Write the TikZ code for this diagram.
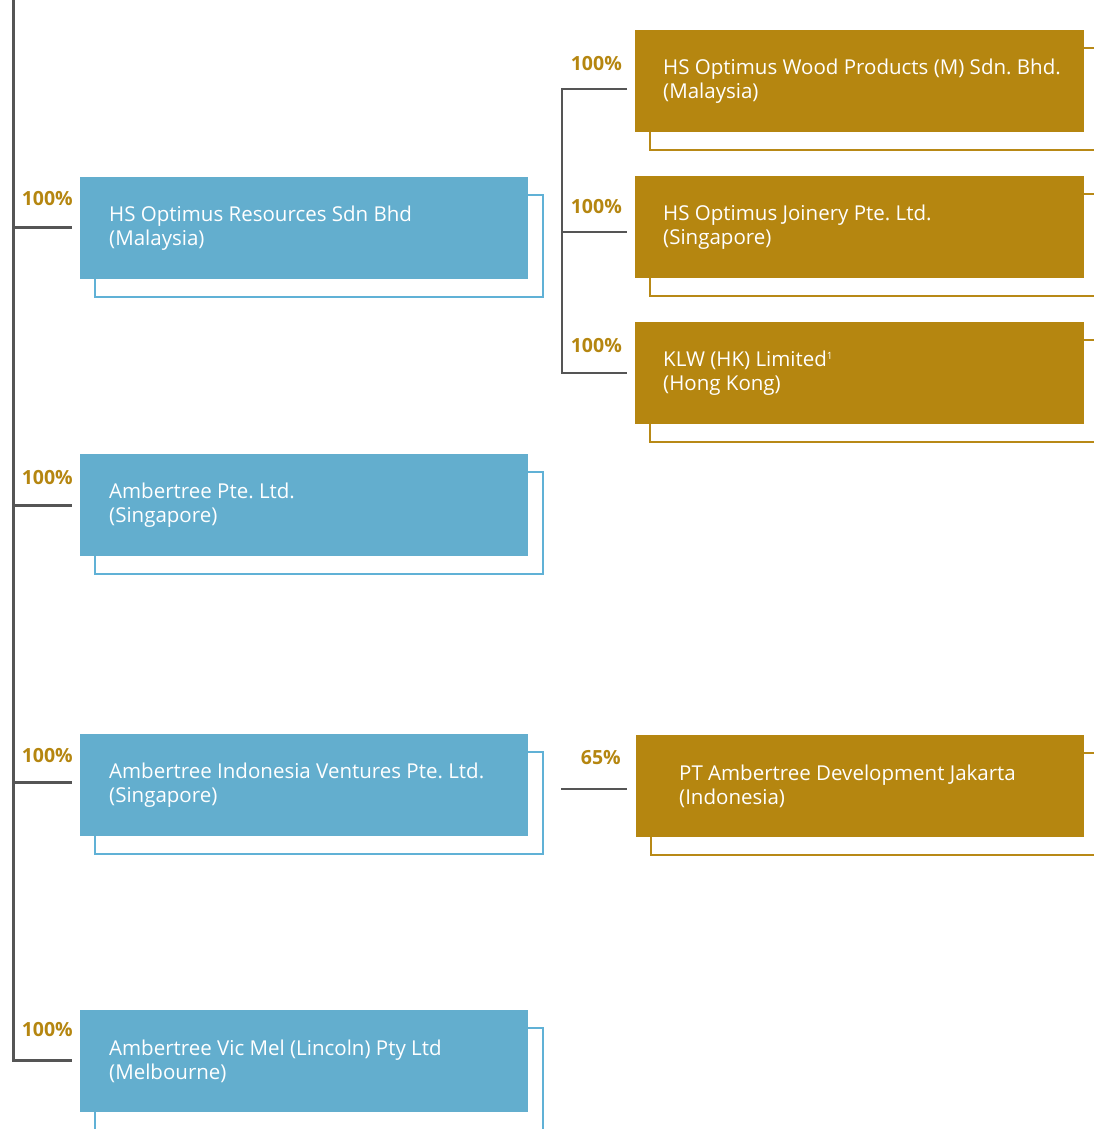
\documentclass[tikz,border=0pt]{standalone}
\usepackage{fontspec}
\setmainfont{Open Sans}
\frenchspacing
\usetikzlibrary{positioning, backgrounds}
\definecolor{linegray}{RGB}{85,85,85}
\definecolor{boxblue}{RGB}{99,174,206}
\definecolor{frameblue}{RGB}{96,177,214}
\definecolor{boxgold}{RGB}{181,134,16}
\definecolor{framegold}{RGB}{184,137,22}

\begin{document}
\begin{tikzpicture}[x=1pt, y=-1pt]
    % Define box styles
    \tikzstyle{bluebox}=[rectangle, fill=boxblue, anchor=north west, minimum width=448pt, minimum height=102pt, inner sep=0pt]
    \tikzstyle{goldbox}=[bluebox, fill=boxgold, minimum width=449pt]
    \tikzstyle{boxtext}=[anchor=west, inner sep=0pt, align=left, text=white, font=\fontsize{20.5}{24}\selectfont]
    \tikzstyle{pct}=[anchor=base east, inner sep=0pt, text=boxgold, font=\fontsize{19.5}{24}\selectfont\bfseries]
    \tikzstyle{trunk}=[draw=linegray, line width=3pt]
    \tikzstyle{thinlink}=[draw=linegray, line width=2pt]

    \useasboundingbox (0,0) rectangle (1094,1129);
    \clip (0,0) rectangle (1094,1129);

    % Left column
    \node[bluebox] (hsr) at (80,177) {};
    \node[boxtext, right=29pt of hsr.west] (hsrtext) {HS Optimus Resources Sdn Bhd\\(Malaysia)};
    \node[bluebox] (amb) at (80,454) {};
    \node[boxtext, right=29pt of amb.west] (ambtext) {Ambertree Pte. Ltd.\\(Singapore)};
    \node[bluebox] (aiv) at (80,734) {};
    \node[boxtext, right=29pt of aiv.west] (aivtext) {Ambertree Indonesia Ventures Pte. Ltd.\\(Singapore)};
    \node[bluebox] (avm) at (80,1010) {};
    \node[boxtext, right=29pt of avm.west] (avmtext) {Ambertree Vic Mel (Lincoln) Pty Ltd\\(Melbourne)};

    % Right column
    \node[goldbox] (hsw) at (635,30) {};
    \node[boxtext, right=28pt of hsw.west] (hswtext) {HS Optimus Wood Products (M) Sdn. Bhd.\\(Malaysia)};
    \node[goldbox] (hsj) at (635,176) {};
    \node[boxtext, right=28pt of hsj.west] (hsjtext) {HS Optimus Joinery Pte. Ltd.\\(Singapore)};
    \node[goldbox] (klw) at (635,322) {};
    \node[boxtext, right=28pt of klw.west] (klwtext) {KLW (HK) Limited\smash{\raisebox{7.5pt}{\fontsize{10}{10}\selectfont 1}}\\(Hong Kong)};
    \node[goldbox, minimum width=448pt] (ptad) at (636,735) {};
    \node[boxtext, right=43pt of ptad.west] (ptadtext) {PT Ambertree Development Jakarta\\(Indonesia)};

    % Offset frames behind the boxes
    \begin{scope}[on background layer]
        \foreach \n/\c in {hsr/frameblue, amb/frameblue, aiv/frameblue, avm/frameblue, hsw/framegold, hsj/framegold, klw/framegold, ptad/framegold}
            \draw[\c, line width=2pt] ([shift={(15pt,-18pt)}]\n.north west) rectangle ([shift={(15pt,-18pt)}]\n.south east);
    \end{scope}

    % Shareholding lines
    \coordinate (ltop) at (13,0);
    \coordinate (rtop) at (562,0);
    \foreach \n/\dy in {hsr/1, amb/0, aiv/3, avm/1}
        \coordinate (\n-in) at ([shift={(-8pt,\dy pt)}]\n.west);
    \draw[trunk] (ltop) |- (avm-in);
    \foreach \n in {hsr, amb, aiv}
        \draw[trunk] (ltop |- \n-in) -- (\n-in);

    \foreach \n/\dy in {hsw/-7.5, hsj/-4.5, klw/0.5}
        \coordinate (\n-in) at ([shift={(-8pt,\dy pt)}]\n.west);
    \draw[thinlink] (hsw-in) -| (rtop |- klw-in) -- (klw-in);
    \draw[thinlink] (rtop |- hsj-in) -- (hsj-in);

    \coordinate (ptad-in) at ([shift={(-9pt,-2.5pt)}]ptad.west);
    \coordinate (ptad-stub) at ([xshift=-66pt]ptad-in);
    \draw[thinlink] (ptad-stub) -- (ptad-in);

    % Percentages
    \node[pct] (hsrpct) at (73,205) {100\%};
    \node[pct] (ambpct) at (73,484) {100\%};
    \node[pct] (aivpct) at (73,762) {100\%};
    \node[pct] (avmpct) at (73,1036) {100\%};
    \node[pct] (hswpct) at (622,71) {100\%};
    \node[pct] (hsjpct) at (622,213) {100\%};
    \node[pct] (klwpct) at (622,352) {100\%};
    \node[pct] (ptadpct) at (621,764) {65\%};

\end{tikzpicture}
\end{document}
